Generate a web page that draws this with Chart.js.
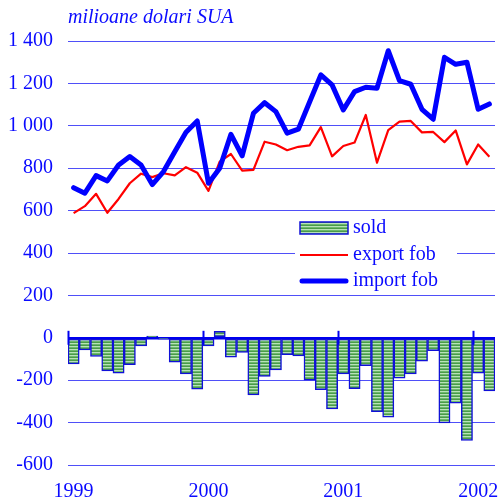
<!DOCTYPE html>
<html>
<head>
<meta charset="utf-8">
<script src="https://cdn.jsdelivr.net/npm/chart.js@4.4.0/dist/chart.umd.min.js"></script>
<style>
  html, body { margin: 0; padding: 0; background: #fff; }
  #wrap { width: 500px; height: 499px; }
</style>
</head>
<body>
<div id="wrap"><canvas id="c" width="500" height="499"></canvas></div>
<script>
// Monthly categories, Jan 1999 - Feb 2002
const months = [
  '1999-01','1999-02','1999-03','1999-04','1999-05','1999-06','1999-07','1999-08','1999-09','1999-10','1999-11','1999-12',
  '2000-01','2000-02','2000-03','2000-04','2000-05','2000-06','2000-07','2000-08','2000-09','2000-10','2000-11','2000-12',
  '2001-01','2001-02','2001-03','2001-04','2001-05','2001-06','2001-07','2001-08','2001-09','2001-10','2001-11','2001-12',
  '2002-01','2002-02'
];
const yearLabels = ['1999', '2000', '2001', '2002'];
const yTicks = [-600, -400, -200, 0, 200, 400, 600, 800, 1000, 1200, 1400];
const unitLabel = 'milioane dolari SUA';
const seriesNames = ['sold', 'export fob', 'import fob'];

// Trade balance (bars), exports and imports FOB, million USD
const soldValues = [
  -123, -57, -88, -156, -167, -127, -38, 8, -3, -115, -170, -242,
  -38, 30, -91, -69, -270, -182, -151, -80, -85, -200, -245, -336,
  -170, -240, -132, -349, -374, -190, -170, -110, -61, -402, -308, -484,
  -167, -250
];
const exportFob = [
  588, 621, 679, 590, 655, 729, 774, 758, 776, 766, 805, 779,
  693, 831, 867, 789, 792, 925, 912, 885, 901, 908, 994, 856,
  905, 921, 1051, 826, 980, 1020, 1023, 969, 971, 923, 978, 818,
  912, 854
];
const importFob = [
  708, 682, 765, 740, 815, 855, 815, 723, 784, 878, 970, 1023,
  729, 800, 960, 858, 1059, 1109, 1067, 965, 984, 1112, 1240, 1193,
  1075, 1161, 1182, 1177, 1354, 1213, 1196, 1078, 1031, 1323, 1290, 1300,
  1078, 1103
];

const FONT = '"Liberation Serif", "Times New Roman", serif';
const FONT_SIZE = 20;
const TEXT_BLUE = '#0a0aff';

const canvas = document.getElementById('c');
const ctx2d = canvas.getContext('2d');

// green fill with thin light horizontal stripes
function stripedFill() {
  const p = document.createElement('canvas');
  p.width = 4; p.height = 3;
  const g = p.getContext('2d');
  g.fillStyle = '#4a9b4a'; g.fillRect(0, 0, 4, 3);
  g.fillStyle = '#6cb86c'; g.fillRect(0, 2, 4, 1);
  g.fillStyle = '#b8e2b8'; g.fillRect(0, 1, 4, 1);
  return ctx2d.createPattern(p, 'repeat');
}
const barFill = stripedFill();
const barEdge = '#1010d8';

function fmtThousands(v) {
  return String(v).replace(/\B(?=(\d{3})+(?!\d))/g, ' ');
}

// short vertical marks on the zero line at each year boundary
const yearMarks = {
  id: 'yearMarks',
  afterDatasetsDraw(chart) {
    const { ctx, scales: { x, y } } = chart;
    const y0 = y.getPixelForValue(0);
    const half = (x.getPixelForValue(1) - x.getPixelForValue(0)) / 2;
    ctx.save();
    ctx.strokeStyle = '#0000ee';
    ctx.lineWidth = 2;
    months.forEach((m, i) => {
      if (m.endsWith('-01')) {
        const px = Math.round(x.getPixelForValue(i) - half) + 0.5;
        ctx.beginPath();
        ctx.moveTo(px, y0 - 7);
        ctx.lineTo(px, y0 + 7);
        ctx.stroke();
      }
    });
    ctx.restore();
  }
};

// boxed legend inside the plot area
const boxLegend = {
  id: 'boxLegend',
  afterDatasetsDraw(chart) {
    const { ctx, chartArea: a } = chart;
    const x0 = a.left + 227, y0 = a.top + 172, w = 162, h = 81;
    const rows = [y0 + 15, y0 + 42, y0 + 68];
    const mx0 = x0 + 5, mx1 = x0 + 53;
    ctx.save();
    ctx.fillStyle = '#fff';
    ctx.fillRect(x0, y0, w, h);
    chart.data.datasets.forEach((ds, i) => {
      const ry = rows[i];
      if (ds.type === 'bar') {
        ctx.fillStyle = ds.backgroundColor;
        ctx.fillRect(mx0, ry - 6, mx1 - mx0, 12);
        ctx.strokeStyle = ds.borderColor;
        ctx.lineWidth = 1.5;
        ctx.strokeRect(mx0, ry - 6, mx1 - mx0, 12);
      } else {
        ctx.strokeStyle = ds.borderColor;
        ctx.lineWidth = ds.borderWidth;
        ctx.lineCap = ds.borderCapStyle || 'butt';
        ctx.beginPath();
        ctx.moveTo(mx0 + (ds.borderWidth > 3 ? 2 : 0), ry);
        ctx.lineTo(mx1 - (ds.borderWidth > 3 ? 2 : 0), ry);
        ctx.stroke();
      }
      ctx.fillStyle = TEXT_BLUE;
      ctx.font = FONT_SIZE + 'px ' + FONT;
      ctx.textBaseline = 'middle';
      ctx.textAlign = 'left';
      ctx.fillText(ds.label, x0 + 58, ry);
    });
    ctx.restore();
  }
};

new Chart(ctx2d, {
  data: {
    labels: months,
    datasets: [
      {
        type: 'bar',
        label: seriesNames[0],
        data: soldValues,
        backgroundColor: barFill,
        borderColor: barEdge,
        borderWidth: 1.5,
        borderSkipped: false,
        categoryPercentage: 1,
        barPercentage: 1,
        order: 3
      },
      {
        type: 'line',
        label: seriesNames[1],
        data: exportFob,
        borderColor: '#ff0000',
        borderWidth: 2.2,
        pointRadius: 0,
        tension: 0,
        fill: false,
        borderJoinStyle: 'round',
        order: 2
      },
      {
        type: 'line',
        label: seriesNames[2],
        data: importFob,
        borderColor: '#0000ff',
        borderWidth: 5,
        pointRadius: 0,
        tension: 0,
        fill: false,
        borderJoinStyle: 'round',
        borderCapStyle: 'round',
        order: 1
      }
    ]
  },
  options: {
    responsive: false,
    animation: false,
    devicePixelRatio: 1,
    layout: { padding: { left: 0, right: 5, top: 0, bottom: 0 } },
    plugins: {
      legend: { display: false },
      tooltip: { enabled: false },
      title: {
        display: true,
        text: unitLabel,
        align: 'start',
        fullSize: false,
        color: TEXT_BLUE,
        font: { family: FONT, size: FONT_SIZE, style: 'italic', weight: 'normal', lineHeight: 1.2 },
        padding: { top: 6, bottom: 11 }
      }
    },
    scales: {
      x: {
        type: 'category',
        offset: true,
        grid: { display: false },
        border: { display: false },
        ticks: {
          autoSkip: false,
          maxRotation: 0,
          minRotation: 0,
          padding: 9,
          color: TEXT_BLUE,
          font: { family: FONT, size: FONT_SIZE, lineHeight: 1.0 },
          callback: (v, i) => {
            const yr = months[i].slice(0, 4);
            return months[i].endsWith('-01') && yearLabels.includes(yr) ? yr : '';
          }
        },
        afterFit: (s) => { s.height = 34; }
      },
      y: {
        min: -600,
        max: 1400,
        afterBuildTicks: (s) => { s.ticks = yTicks.map(v => ({ value: v })); },
        grid: {
          drawTicks: false,
          color: (c) => (c.tick && c.tick.value === 0 ? '#0000ee' : '#4f4ff8'),
          lineWidth: (c) => (c.tick && c.tick.value === 0 ? 2.5 : 1)
        },
        border: { display: false },
        ticks: {
          padding: 15,
          color: TEXT_BLUE,
          font: { family: FONT, size: FONT_SIZE },
          callback: (v) => fmtThousands(v)
        },
        afterFit: (s) => { s.width = 68; }
      }
    }
  },
  plugins: [yearMarks, boxLegend]
});
</script>
</body>
</html>
